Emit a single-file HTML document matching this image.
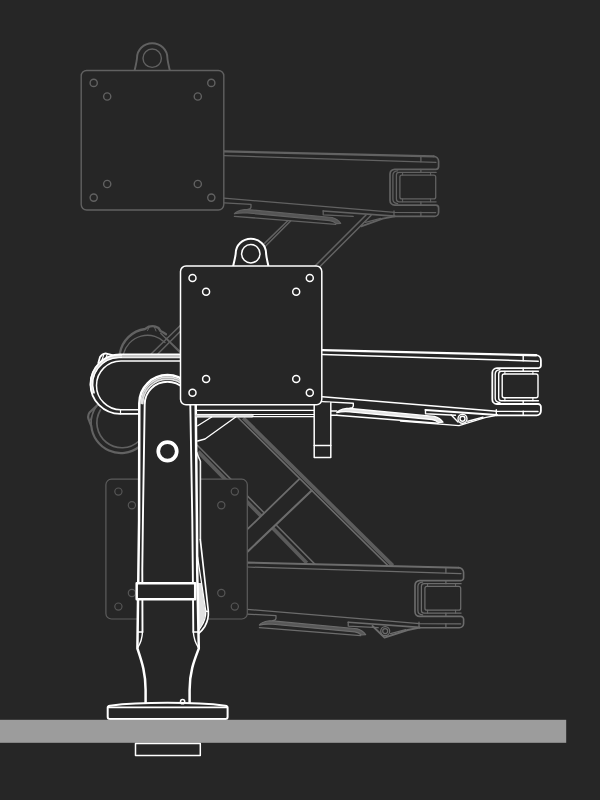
<!DOCTYPE html>
<html><head><meta charset="utf-8"><title>Monitor arm</title>
<style>
html,body{margin:0;padding:0;background:#262626;}
body{width:600px;height:800px;overflow:hidden;font-family:"Liberation Sans",sans-serif;}
svg{display:block;}
</style></head><body>
<svg width="600" height="800" viewBox="0 0 600 800" stroke-linecap="round" stroke-linejoin="round">
<rect x="0" y="0" width="600" height="800" fill="#262626"/>

<g id="toparm" fill="none" stroke="#626262" stroke-width="1.3">
<path d="M288,220.5 L151.3,353.8 M290.6,221 L158,353.8" stroke-width="1.5"/>
<path d="M366,215 L300,281 M371,215.5 L305,281.5" stroke-width="1.5"/>
<path d="M119.8,353.5 A29.7,29.7 0 0 1 145,329 L149,326.6 Q154,325 158.5,328 L160.5,331 A29.7,29.7 0 0 1 166,334.2" stroke-width="2.3"/>
<path d="M149.5,327 L147.5,330.5 M154,326 L156,331" stroke-width="1"/>
<path d="M123.6,353.5 A24.8,24.8 0 0 1 165,342.5"/>
<path d="M160.7,333.3 L179.6,352.2 M166,338 L179.6,350.9"/>
</g>
<g transform="translate(-102.3,-198.9)" fill="none" stroke="#626262" stroke-width="1.30">
<path d="M326.3,350.2 L536,355.3 L538,411.5 L497,415.3 L425.5,409.6 L326.3,397.0 Z" fill="#262626" stroke="none"/>
<path d="M326.3,350.2 L536,355.3" stroke-width="2.2"/>
<path d="M326.3,354.6 L538.3,361.2"/>
<path d="M326.3,397.0 L497,411.3 L538,411.5"/>
<path d="M326.3,401.8 L353.3,403.3 L353.3,406 Q353,408 350,408.3"/>
<path d="M336.7,412.7 Q338,409.8 346.7,408.4 L350,408.5 L434.4,416.4 Q440,418 443,422.2 L438.5,422.6 Q436,420 432,419.5 L350,411.9 Q342,411.3 336.7,412.7 Z" fill="#555555" stroke-width="1.17"/>
<path d="M336.7,415.2 L438,423.2"/>
<path d="M463.5,425.2 L485,417.6 L497,415.3" stroke-width="1.82"/>
<path d="M467.8,421.2 L483,417.2"/>
<path d="M425.5,409.9 L497,415.0" stroke-width="1.6"/>
<path d="M425.5,409.6 L425.5,413.7 L455.5,415.3"/>
</g>
<path d="M433.6,156.3 A5,5 0 0 1 438.6,161.3 L438.6,166.5 A2.8,2.8 0 0 1 435.8,169.3 L394.6,169.3 A4.6,4.6 0 0 0 390.0,173.9 L390.0,200.5 A4.6,4.6 0 0 0 394.6,205.1 L435.8,205.1 A2.8,2.8 0 0 1 438.6,207.9 L438.6,212.2 A4.2,4.2 0 0 1 434.4,216.4 L394.0,216.4" fill="none" stroke="#626262" stroke-width="1.69"/>
<path d="M436.1,172.4 L399.1,172.4 Q396.4,172.4 396.4,175.1 L396.4,199.1 Q396.4,201.8 399.1,201.8 L436.1,201.8" fill="none" stroke="#626262" stroke-width="1.30"/>
<path d="M397.6,170.8 Q392.9,171.1 392.9,175.3 L392.9,199.3 Q392.9,203.3 397.6,203.6" fill="none" stroke="#626262" stroke-width="1.30"/>
<rect x="399.9" y="175.1" width="35.8" height="23.8" rx="2" fill="none" stroke="#626262" stroke-width="1.30"/>
<path d="M402.6,172.4 L402.6,175.1 M402.6,198.9 L402.6,201.8" stroke="#626262" stroke-width="1.04" fill="none"/>
<path d="M430.6,172.4 L430.6,175.1 M430.6,198.9 L430.6,201.8" stroke="#626262" stroke-width="1.04" fill="none"/>
<path d="M420.9,156.3 L420.9,161.8 M420.9,169.3 L420.9,172.4 M420.9,201.8 L420.9,205.1 M420.9,212.2 L420.9,216.4 M394.0,210.9 L394.0,216.4" stroke="#626262" stroke-width="1.30" fill="none"/>
<path d="M134.6,70.5 C135.6,65.5 136.8,61.5 137.0,58.0 A15.2,14.8 0 0 1 167.4,58.0 C167.6,61.5 168.8,65.5 169.8,70.5" fill="#262626" stroke="#616161" stroke-width="1.89"/>
<circle cx="152.2" cy="58.2" r="9.2" fill="none" stroke="#616161" stroke-width="1.40"/>
<rect x="81.2" y="70.5" width="142.6" height="139.5" rx="5.5" fill="#262626" stroke="#616161" stroke-width="1.40"/>
<circle cx="93.7" cy="82.9" r="3.6" fill="none" stroke="#616161" stroke-width="1.40"/>
<circle cx="93.7" cy="197.6" r="3.6" fill="none" stroke="#616161" stroke-width="1.40"/>
<circle cx="211.3" cy="82.9" r="3.6" fill="none" stroke="#616161" stroke-width="1.40"/>
<circle cx="211.3" cy="197.6" r="3.6" fill="none" stroke="#616161" stroke-width="1.40"/>
<circle cx="107.2" cy="96.5" r="3.6" fill="none" stroke="#616161" stroke-width="1.40"/>
<circle cx="107.2" cy="184.0" r="3.6" fill="none" stroke="#616161" stroke-width="1.40"/>
<circle cx="197.8" cy="96.5" r="3.6" fill="none" stroke="#616161" stroke-width="1.40"/>
<circle cx="197.8" cy="184.0" r="3.6" fill="none" stroke="#616161" stroke-width="1.40"/>
<g id="botarm" fill="none" stroke="#6c6c6c" stroke-width="1.25">
<path d="M97.5,405 L89.5,412.5 Q86.8,416.5 89.5,421.5 L91.3,426 A29.8,29.8 0 0 0 139,447" stroke="#626262" stroke-width="2.2"/>
<path d="M97.5,405 A29.8,29.8 0 0 0 91.3,426 M94,409 L90.5,420" stroke="#626262" stroke-width="1.3"/>
<path d="M100.4,410 A25,25 0 0 0 139,441" stroke="#606060" stroke-width="1.7"/>
<path d="M197.3,445.3 L315,564.2" stroke-width="1.5"/>
<path d="M198.2,451.6 L306.8,563" stroke="#5b5b5b" stroke-width="3.8" stroke-linecap="butt"/>
<path d="M247.5,529.2 L299.2,479.2 L311.7,490.5 L247.5,551.7 Z" fill="#262626" stroke="none"/>
<path d="M247.5,529.2 L299.2,479.2" stroke-width="1.8"/>
<path d="M247.5,551.7 L311.7,490.5" stroke-width="2.1"/>
<path d="M238.3,418 L387.8,565.5" stroke-width="1.6"/>
<path d="M243.3,418 L392.8,565.6" stroke="#5d5d5d" stroke-width="3.8" stroke-linecap="butt"/>
</g>
<g transform="translate(-77.3,212.4)" fill="none" stroke="#6c6c6c" stroke-width="1.25">
<path d="M324.6,350.2 L536,355.3 L538,411.5 L497,415.3 L425.5,409.6 L324.6,396.9 Z" fill="#262626" stroke="none"/>
<path d="M324.6,350.2 L536,355.3" stroke-width="2.1"/>
<path d="M324.6,354.6 L538.3,361.2"/>
<path d="M324.6,396.9 L497,411.3 L538,411.5"/>
<path d="M324.6,401.7 L353.3,403.3 L353.3,406 Q353,408 350,408.3"/>
<path d="M336.7,412.7 Q338,409.8 346.7,408.4 L350,408.5 L434.4,416.4 Q440,418 443,422.2 L438.5,422.6 Q436,420 432,419.5 L350,411.9 Q342,411.3 336.7,412.7 Z" fill="#585858" stroke-width="1.12"/>
<path d="M336.7,415.2 L438,423.2"/>
<path d="M449.8,413.6 L461.8,425.2 L485,417.6 L497,415.3" stroke-width="1.88"/>
<path d="M467.8,421.2 L483,417.2"/>
<path d="M425.5,409.9 L497,415.0" stroke-width="1.6"/>
<path d="M425.5,409.6 L425.5,413.7 L455.5,415.3"/>
<circle cx="462.5" cy="418.7" r="4.5" fill="#262626"/><circle cx="462.5" cy="418.7" r="2.5"/>
</g>
<path d="M458.6,567.6 A5,5 0 0 1 463.6,572.6 L463.6,577.8 A2.8,2.8 0 0 1 460.8,580.6 L419.6,580.6 A4.6,4.6 0 0 0 415.0,585.2 L415.0,611.8 A4.6,4.6 0 0 0 419.6,616.4 L460.8,616.4 A2.8,2.8 0 0 1 463.6,619.2 L463.6,623.5 A4.2,4.2 0 0 1 459.4,627.7 L419.0,627.7" fill="none" stroke="#6c6c6c" stroke-width="1.62"/>
<path d="M461.1,583.7 L424.1,583.7 Q421.4,583.7 421.4,586.4 L421.4,610.4 Q421.4,613.1 424.1,613.1 L461.1,613.1" fill="none" stroke="#6c6c6c" stroke-width="1.25"/>
<path d="M422.6,582.1 Q417.9,582.4 417.9,586.6 L417.9,610.6 Q417.9,614.6 422.6,614.9" fill="none" stroke="#6c6c6c" stroke-width="1.25"/>
<rect x="424.9" y="586.4" width="35.8" height="23.8" rx="2" fill="none" stroke="#6c6c6c" stroke-width="1.25"/>
<path d="M427.6,583.7 L427.6,586.4 M427.6,610.2 L427.6,613.1" stroke="#6c6c6c" stroke-width="1.00" fill="none"/>
<path d="M455.6,583.7 L455.6,586.4 M455.6,610.2 L455.6,613.1" stroke="#6c6c6c" stroke-width="1.00" fill="none"/>
<path d="M445.9,567.6 L445.9,573.1 M445.9,580.6 L445.9,583.7 M445.9,613.1 L445.9,616.4 M445.9,623.5 L445.9,627.7 M419.0,622.2 L419.0,627.7" stroke="#6c6c6c" stroke-width="1.25" fill="none"/>
<rect x="105.9" y="479.2" width="141.4" height="139.8" rx="5.5" fill="#262626" stroke="#5c5c5c" stroke-width="1.20"/>
<circle cx="118.4" cy="491.6" r="3.6" fill="none" stroke="#565656" stroke-width="1.20"/>
<circle cx="118.4" cy="606.6" r="3.6" fill="none" stroke="#565656" stroke-width="1.20"/>
<circle cx="234.8" cy="491.6" r="3.6" fill="none" stroke="#565656" stroke-width="1.20"/>
<circle cx="234.8" cy="606.6" r="3.6" fill="none" stroke="#565656" stroke-width="1.20"/>
<circle cx="131.9" cy="505.2" r="3.6" fill="none" stroke="#565656" stroke-width="1.20"/>
<circle cx="131.9" cy="593.0" r="3.6" fill="none" stroke="#565656" stroke-width="1.20"/>
<circle cx="221.3" cy="505.2" r="3.6" fill="none" stroke="#565656" stroke-width="1.20"/>
<circle cx="221.3" cy="593.0" r="3.6" fill="none" stroke="#565656" stroke-width="1.20"/>
<g id="midarm" fill="none" stroke="#ffffff" stroke-width="1.4">
<path d="M322,354.5 L120.1,354.5 A29.65,29.65 0 0 0 120.1,413.8 L322,413.8 Z" fill="#262626" stroke="none"/>
<path d="M121,356 A28.2,28.2 0 0 0 92.6,392" stroke="#d8d8d8" stroke-width="3.4"/>
<path d="M181,354.5 L120.1,354.5 A29.65,29.65 0 0 0 120.1,413.8 L139,413.8" stroke-width="1.8"/>
<path d="M181,357.6 L120.1,357.6 A26.6,26.6 0 0 0 94.2,393" stroke-width="1.3"/>
<rect x="122" y="355" width="59" height="2.4" fill="#c9c9c9" stroke="none"/>
<path d="M181,361 L120.9,361 A24.4,24.4 0 0 0 120.9,409.8 L139,409.8" stroke-width="1.5"/>
<path d="M120.5,409.8 L120.5,413.8" stroke-width="1.2"/>
<path d="M98.3,363 L100,357 Q102,353.6 105.5,353.3 L112.5,355" stroke-width="1.8"/>
<path d="M104,354 L102,360 M107.5,353.8 L106,357.5" stroke-width="1.1"/>
<path d="M330.8,415.2 L337,415.2 M330.8,411 L336.7,411"/>
</g>
<g transform="translate(0.0,0.0)" fill="none" stroke="#ffffff" stroke-width="1.40">
<path d="M322.5,350.1 L536,355.3 L538,411.5 L497,415.3 L425.5,409.6 L322.5,396.7 Z" fill="#262626" stroke="none"/>
<path d="M322.5,350.1 L536,355.3" stroke-width="2.4"/>
<path d="M322.5,354.5 L538.3,361.2"/>
<path d="M322.5,396.7 L497,411.3 L538,411.5"/>
<path d="M322.5,401.6 L353.3,403.3 L353.3,406 Q353,408 350,408.3"/>
<path d="M336.7,412.7 Q338,409.8 346.7,408.4 L350,408.5 L434.4,416.4 Q440,418 443,422.2 L438.5,422.6 Q436,420 432,419.5 L350,411.9 Q342,411.3 336.7,412.7 Z" fill="#e4e4e4" stroke-width="1.26"/>
<path d="M336.7,415.2 L438,423.2"/>
<path d="M400.5,421 L459,425.6 L485,417.6 L497,415.3"/>
<path d="M451,414.8 L458,422"/>
<path d="M467.8,421.2 L483,417.2"/>
<path d="M425.5,409.9 L497,415.0" stroke-width="2.0"/>
<path d="M425.5,409.6 L425.5,413.7 L455.5,415.3"/>
<circle cx="462.5" cy="418.7" r="4.5" fill="#262626"/><circle cx="462.5" cy="418.7" r="2.5"/>
</g>
<path d="M535.9,355.2 A5,5 0 0 1 540.9,360.2 L540.9,365.4 A2.8,2.8 0 0 1 538.1,368.2 L496.9,368.2 A4.6,4.6 0 0 0 492.3,372.8 L492.3,399.4 A4.6,4.6 0 0 0 496.9,404.0 L538.1,404.0 A2.8,2.8 0 0 1 540.9,406.8 L540.9,411.1 A4.2,4.2 0 0 1 536.7,415.3 L496.3,415.3" fill="none" stroke="#ffffff" stroke-width="1.82"/>
<path d="M538.4,371.3 L501.4,371.3 Q498.7,371.3 498.7,374.0 L498.7,398.0 Q498.7,400.7 501.4,400.7 L538.4,400.7" fill="none" stroke="#ffffff" stroke-width="1.40"/>
<path d="M499.9,369.7 Q495.2,370.0 495.2,374.2 L495.2,398.2 Q495.2,402.2 499.9,402.5" fill="none" stroke="#ffffff" stroke-width="1.40"/>
<rect x="502.2" y="374.0" width="35.8" height="23.8" rx="2" fill="none" stroke="#ffffff" stroke-width="1.40"/>
<path d="M504.9,371.3 L504.9,374.0 M504.9,397.8 L504.9,400.7" stroke="#ffffff" stroke-width="1.12" fill="none"/>
<path d="M532.9,371.3 L532.9,374.0 M532.9,397.8 L532.9,400.7" stroke="#ffffff" stroke-width="1.12" fill="none"/>
<path d="M523.2,355.2 L523.2,360.7 M523.2,368.2 L523.2,371.3 M523.2,400.7 L523.2,404.0 M523.2,411.1 L523.2,415.3 M496.3,409.8 L496.3,415.3" stroke="#ffffff" stroke-width="1.40" fill="none"/>
<g id="post" fill="none" stroke="#ffffff" stroke-width="1.4">
<path d="M196.7,452.7 L200.2,461.3 L200.3,539.5 L208.3,611 Q209,619 204.8,626.5 Q202,631 198,634 L196,600 Z" fill="#262626" stroke="none"/>
<path d="M196.7,452.7 L200.4,461.3 L200.4,539.5" stroke="#ececec" stroke-width="1.6"/>
<path d="M197.3,583 L201.6,583 L205.4,611 Q205.6,619 201.2,626 L198,631.5 Z" fill="#e2e2e2" stroke="none"/>
<path d="M200.3,539.5 L208.3,611 Q209,619 204.8,626.5 Q202,631 198,634" stroke-width="1.7"/>
<path d="M197.6,557 L205.8,611 L208.3,611.6 M205.8,611 Q206,619 201.5,626 L198.3,631" stroke-width="1.3"/>
<path d="M145.6,703 L145.6,690 C145.6,672 141.5,661 137.4,648.5 L138.4,570 L139.1,520 L139.3,403.2 A28.2,28.2 0 0 1 195.7,403.2 L196.9,520 L197.2,570 L198.8,648.5 C194,661 189.6,672 189.6,690 L189.6,703 Z" fill="#262626" stroke="none"/>
<path d="M141.2,403.4 A26.3,26.3 0 0 1 193.8,403.4 M142.8,403.8 A24.7,24.7 0 0 1 192.2,403.8" stroke="#e0e0e0" stroke-width="1.6"/>
<path d="M145.6,703 L145.6,690 C145.6,672 141.5,661 137.4,648.5 L138.4,570 L139.1,520 L139.3,403.2 A28.2,28.2 0 0 1 195.7,403.2 L196.9,520 L197.2,570 L198.8,648.5 C194,661 189.6,672 189.6,690 L189.6,703" stroke-width="2.5"/>
<path d="M142.5,632 L142.3,570 L142.9,520 L144.7,404.5 A22.8,22.8 0 0 1 190.3,404.5 L192.3,520 L192.8,570 L193.3,632" stroke-width="1.9"/>
<path d="M142.5,632 Q142,641 137.8,647.5 M193.3,632 Q194,641 198.4,647.5 M138,632 L142.5,632 M193.3,632 L198,632" stroke-width="1.4"/>
<circle cx="167.5" cy="451.3" r="9.25" stroke-width="3.7"/>
<rect x="136.7" y="583.3" width="58.5" height="16" fill="#262626" stroke-width="2.5"/>
</g>
<g id="bracket" fill="none" stroke="#ffffff" stroke-width="1.3">
<path d="M196.5,410.3 L314,410.3"/>
<path d="M197,415.7 L252,415.7" stroke="#d6d6d6" stroke-width="3.3"/>
<path d="M197,414.4 L252,414.4 M197,417 L252,417" stroke-width="0.9"/>
<path d="M252,414.5 L314.2,414.5 M252,416.6 L314.2,416.6" stroke-width="1.1"/>
<path d="M211.7,417 L197.7,425.7 M235.7,417 L205,439 L197.7,441"/>
<path d="M314.2,404 L314.2,457.5 L330.8,457.5 L330.8,402.5" fill="#262626" stroke-width="1.5"/>
<path d="M314.2,445.5 L330.8,445.5" stroke-width="1.5"/>
</g>
<path d="M233.2,266.0 C234.2,261.0 235.4,257.0 235.7,253.5 A15.2,14.8 0 0 1 266.1,253.5 C266.2,257.0 267.4,261.0 268.4,266.0" fill="#262626" stroke="#ffffff" stroke-width="2.03"/>
<circle cx="250.8" cy="253.7" r="9.2" fill="none" stroke="#ffffff" stroke-width="1.50"/>
<rect x="180.5" y="266.0" width="141.3" height="138.8" rx="5.5" fill="#262626" stroke="#ffffff" stroke-width="1.50"/>
<circle cx="192.5" cy="278.0" r="3.5" fill="none" stroke="#ffffff" stroke-width="1.50"/>
<circle cx="192.5" cy="392.8" r="3.5" fill="none" stroke="#ffffff" stroke-width="1.50"/>
<circle cx="309.8" cy="278.0" r="3.5" fill="none" stroke="#ffffff" stroke-width="1.50"/>
<circle cx="309.8" cy="392.8" r="3.5" fill="none" stroke="#ffffff" stroke-width="1.50"/>
<circle cx="206.1" cy="291.7" r="3.5" fill="none" stroke="#ffffff" stroke-width="1.50"/>
<circle cx="206.1" cy="379.1" r="3.5" fill="none" stroke="#ffffff" stroke-width="1.50"/>
<circle cx="296.2" cy="291.7" r="3.5" fill="none" stroke="#ffffff" stroke-width="1.50"/>
<circle cx="296.2" cy="379.1" r="3.5" fill="none" stroke="#ffffff" stroke-width="1.50"/>
<g id="base" fill="none" stroke="#ffffff" stroke-width="2">
<path d="M107.7,717 L107.7,707.6 Q107.7,706 110,705.7 C140,701.9 195,701.9 225.3,705.7 Q227.6,706 227.6,707.6 L227.6,717 Q227.6,719 225.6,719 L109.7,719 Q107.7,719 107.7,717 Z" fill="#262626"/>
<path d="M108.5,707.4 L227,707.4" stroke-width="1.6"/>
<circle cx="182.6" cy="701.7" r="2.1" stroke-width="1.5"/>
</g>
<rect x="0" y="719.8" width="566.2" height="23" fill="#9c9c9c"/>
<rect x="135.5" y="743.4" width="64.8" height="12.2" fill="#262626" stroke="#ffffff" stroke-width="1.5"/>
</svg></body></html>
